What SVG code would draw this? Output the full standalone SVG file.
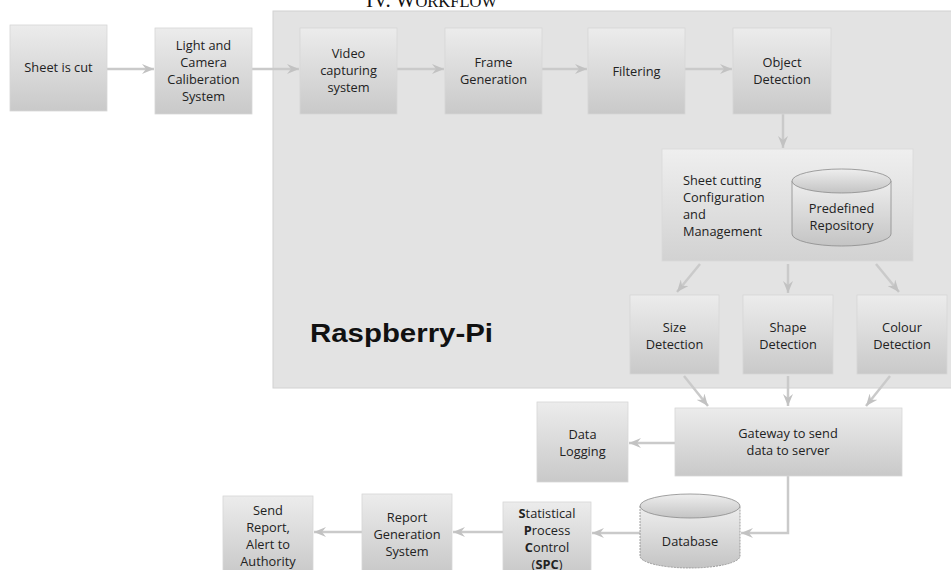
<svg xmlns="http://www.w3.org/2000/svg" width="951" height="570" viewBox="0 0 951 570">
<defs>
<linearGradient id="gBox" x1="0" y1="0" x2="0" y2="1">
<stop offset="0" stop-color="#ececec"/>
<stop offset="1" stop-color="#c9c9c9"/>
</linearGradient>
<linearGradient id="gCfg" x1="0" y1="0" x2="0" y2="1">
<stop offset="0" stop-color="#efefef"/>
<stop offset="1" stop-color="#d2d2d2"/>
</linearGradient>
<linearGradient id="gCyl" x1="0" y1="0" x2="0" y2="1">
<stop offset="0" stop-color="#eeeeee"/>
<stop offset="1" stop-color="#c4c4c4"/>
</linearGradient>
<marker id="ah" markerUnits="userSpaceOnUse" markerWidth="14" markerHeight="10" refX="12" refY="5" orient="auto">
<path d="M0,0 L12,5 L0,10 L4,5 z" fill="#c2c2c2"/>
</marker>
<style>
.box{fill:url(#gBox);stroke:#d6d6d6;stroke-width:0.8}
.t{font-family:"Open Sans","Liberation Sans",sans-serif;font-size:12.8px;fill:#222;text-anchor:middle}
.tl{font-family:"Open Sans","Liberation Sans",sans-serif;font-size:12.8px;fill:#222}
.c{fill:none;stroke:#cacaca;stroke-width:2.5;marker-end:url(#ah)}
.cyl{fill:url(#gCyl);stroke:#8a8a8a;stroke-width:0.8}
</style>
</defs>
<rect width="951" height="570" fill="#ffffff"/>

<g id="title">
<text x="366" y="7" font-family="Liberation Serif, serif" fill="#111" font-size="21">IV. W<tspan font-size="16.5">ORKFLOW</tspan></text>
</g>

<g id="raspberry-pi">
<rect x="273" y="11" width="680" height="377" fill="#e3e3e3" stroke="#d2d2d2" stroke-width="1"/>
<text x="310" y="342" font-family="Liberation Sans, Arial, sans-serif" font-weight="bold" font-size="26" fill="#111" textLength="183" lengthAdjust="spacingAndGlyphs">Raspberry-Pi</text>
</g>

<g id="connectors">
<line class="c" x1="107" y1="69" x2="154" y2="69"/>
<line class="c" x1="252" y1="69" x2="299" y2="69"/>
<line class="c" x1="397" y1="69" x2="444" y2="69"/>
<line class="c" x1="542" y1="69" x2="587" y2="69"/>
<line class="c" x1="685" y1="69" x2="732" y2="69"/>
<line class="c" x1="783" y1="114" x2="783" y2="148"/>
<line class="c" x1="700" y1="264" x2="677" y2="292"/>
<line class="c" x1="788" y1="264" x2="788" y2="293"/>
<line class="c" x1="876" y1="264" x2="899" y2="292"/>
<line class="c" x1="684" y1="376" x2="708" y2="406"/>
<line class="c" x1="788" y1="376" x2="788" y2="406"/>
<line class="c" x1="890" y1="376" x2="866" y2="406"/>
<line class="c" x1="675" y1="443" x2="629" y2="443"/>
<polyline class="c" points="788,476 788,533 741,533"/>
<line class="c" x1="640" y1="533" x2="592" y2="533"/>
<line class="c" x1="503" y1="532" x2="453" y2="532"/>
<line class="c" x1="362" y1="532" x2="314" y2="532"/>
</g>

<g id="sheet-is-cut">
<rect class="box" x="10" y="25" width="97" height="86"/>
<text class="t" x="58.5" y="72">Sheet is cut</text>
</g>

<g id="calibration">
<rect class="box" x="155" y="28" width="97" height="86"/>
<text class="t" x="203.5" y="50">Light and</text>
<text class="t" x="203.5" y="67">Camera</text>
<text class="t" x="203.5" y="84">Caliberation</text>
<text class="t" x="203.5" y="101">System</text>
</g>

<g id="video-capturing">
<rect class="box" x="300" y="28" width="97" height="86"/>
<text class="t" x="348.5" y="58">Video</text>
<text class="t" x="348.5" y="75">capturing</text>
<text class="t" x="348.5" y="92">system</text>
</g>

<g id="frame-generation">
<rect class="box" x="445" y="28" width="97" height="86"/>
<text class="t" x="493.5" y="67">Frame</text>
<text class="t" x="493.5" y="84">Generation</text>
</g>

<g id="filtering">
<rect class="box" x="588" y="28" width="97" height="86"/>
<text class="t" x="636.5" y="76">Filtering</text>
</g>

<g id="object-detection">
<rect class="box" x="733" y="28" width="98" height="86"/>
<text class="t" x="782" y="67">Object</text>
<text class="t" x="782" y="84">Detection</text>
</g>

<g id="config">
<rect x="662" y="149" width="251" height="112" fill="url(#gCfg)" stroke="#dadada" stroke-width="0.8"/>
<text class="tl" x="683" y="185">Sheet cutting</text>
<text class="tl" x="683" y="202">Configuration</text>
<text class="tl" x="683" y="219">and</text>
<text class="tl" x="683" y="236">Management</text>
</g>

<g id="predefined-repository">
<path class="cyl" d="M792,181 L792,234 A49.5,12 0 0 0 891,234 L891,181"/>
<ellipse class="cyl" cx="841.5" cy="181" rx="49.5" ry="12"/>
<text class="t" x="841.5" y="213">Predefined</text>
<text class="t" x="841.5" y="230">Repository</text>
</g>

<g id="size-detection">
<rect class="box" x="630" y="295" width="89" height="79"/>
<text class="t" x="674.5" y="332">Size</text>
<text class="t" x="674.5" y="349">Detection</text>
</g>

<g id="shape-detection">
<rect class="box" x="743" y="295" width="90" height="79"/>
<text class="t" x="788" y="332">Shape</text>
<text class="t" x="788" y="349">Detection</text>
</g>

<g id="colour-detection">
<rect class="box" x="857" y="295" width="90" height="79"/>
<text class="t" x="902" y="332">Colour</text>
<text class="t" x="902" y="349">Detection</text>
</g>

<g id="gateway">
<rect class="box" x="675" y="408" width="227" height="68"/>
<text class="t" x="788" y="438">Gateway to send</text>
<text class="t" x="788" y="455">data to server</text>
</g>

<g id="data-logging">
<rect class="box" x="537" y="402" width="91" height="80"/>
<text class="t" x="582.5" y="439">Data</text>
<text class="t" x="582.5" y="456">Logging</text>
</g>

<g id="database">
<path class="cyl" d="M640,506 L640,556 A50,12 0 0 0 740,556 L740,506" stroke-dasharray="2,1"/>
<ellipse class="cyl" cx="690" cy="506" rx="50" ry="12"/>
<text class="t" x="690" y="546">Database</text>
</g>

<g id="spc">
<rect class="box" x="503" y="502" width="88" height="72"/>
<text class="t" x="547" y="518"><tspan font-weight="bold">S</tspan>tatistical</text>
<text class="t" x="547" y="535"><tspan font-weight="bold">P</tspan>rocess</text>
<text class="t" x="547" y="552"><tspan font-weight="bold">C</tspan>ontrol</text>
<text class="t" x="547" y="569">(<tspan font-weight="bold">SPC</tspan>)</text>
</g>

<g id="report-generation">
<rect class="box" x="362" y="494" width="90" height="78"/>
<text class="t" x="407" y="522">Report</text>
<text class="t" x="407" y="539">Generation</text>
<text class="t" x="407" y="556">System</text>
</g>

<g id="send-report">
<rect class="box" x="223" y="496" width="90" height="78"/>
<text class="t" x="268" y="515">Send</text>
<text class="t" x="268" y="532">Report,</text>
<text class="t" x="268" y="549">Alert to</text>
<text class="t" x="268" y="566">Authority</text>
</g>
</svg>
